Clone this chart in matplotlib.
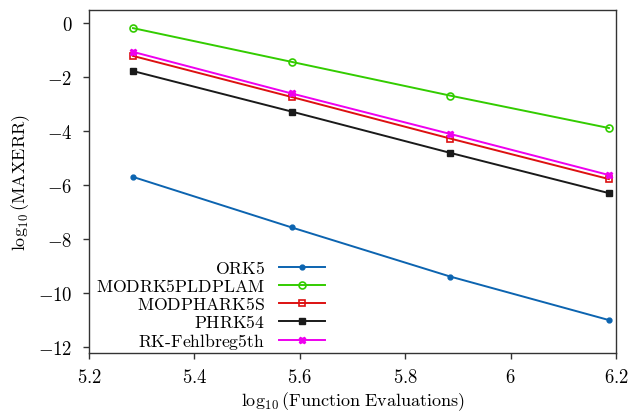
import matplotlib
matplotlib.use("Agg")
import matplotlib.pyplot as plt
from matplotlib.ticker import FixedLocator, FixedFormatter

plt.rcParams['mathtext.fontset'] = 'cm'
plt.rcParams['font.family'] = 'serif'
plt.rcParams['font.serif'] = ['DejaVu Serif']

x = [5.2835, 5.5845, 5.8856, 6.1866]
ork5 = [-5.70, -7.57, -9.39, -11.00]
modrk = [-0.19, -1.44, -2.69, -3.89]
modphark = [-1.22, -2.74, -4.28, -5.78]
phrk54 = [-1.78, -3.28, -4.81, -6.30]
rkf = [-1.07, -2.61, -4.11, -5.63]

names = ['ORK5', 'MODRK5PLDPLAM', 'MODPHARK5S', 'PHRK54', 'RK-Fehlbreg5th']
xticks = [5.2, 5.4, 5.6, 5.8, 6.0, 6.2]
xticklabels = ['5.2', '5.4', '5.6', '5.8', '6', '6.2']
yticks = [0, -2, -4, -6, -8, -10, -12]
yticklabels = ['0', '-2', '-4', '-6', '-8', '-10', '-12']

fig = plt.figure(figsize=(6.29, 4.14), dpi=100)
ax = fig.add_axes([0.1415, 0.1449, 0.8378, 0.8285])

lw = 1.4
ax.plot(x, ork5, color='#0c64b0', marker='o', ms=3.5, lw=lw, label=r'$\mathrm{ORK5}$')
ax.plot(x, modrk, color='#33cc00', marker='o', ms=5, mfc='none', mew=1.2, lw=lw,
        label=r'$\mathrm{MODRK5PLDPLAM}$')
ax.plot(x, modphark, color='#dd1111', marker='s', ms=5, mfc='none', mew=1.2, lw=lw,
        label=r'$\mathrm{MODPHARK5S}$')
ax.plot(x, phrk54, color='#1a1a1a', marker='s', ms=5, lw=lw, label=r'$\mathrm{PHRK54}$')
ax.plot(x, rkf, color='#ee00ee', marker='X', ms=5, lw=lw, label=r'$\mathrm{RK\text{-}Fehlbreg5th}$')

ax.set_xlim(5.2, 6.2)
ax.set_ylim(-12.22, 0.48)
ax.xaxis.set_major_locator(FixedLocator(xticks))
ax.xaxis.set_major_formatter(FixedFormatter(['$' + t + '$' for t in xticklabels]))
ax.yaxis.set_major_locator(FixedLocator(yticks))
ax.yaxis.set_major_formatter(FixedFormatter(['$' + t + '$' for t in yticklabels]))
ax.tick_params(direction='out', length=4, width=1, labelsize=13.5, color='#333333')
ax.tick_params(axis='x', pad=7)
ax.tick_params(axis='y', pad=8)
for s in ax.spines.values():
    s.set_color('#333333')
    s.set_linewidth(1.0)

ax.set_xlabel(r'$\log_{10}(\mathrm{Function\ Evaluations})$', fontsize=13, labelpad=2)
ax.set_ylabel(r'$\log_{10}(\mathrm{MAXERR})$', fontsize=13, labelpad=4)

leg = ax.legend(loc='lower left', bbox_to_anchor=(0.0, -0.015), markerfirst=False, frameon=False,
                fontsize=12.7, handlelength=2.6, labelspacing=0.0, handletextpad=0.8,
                borderaxespad=0.0)
for t in leg.get_texts():
    t.set_ha('right')

fig.savefig('out.png', dpi=100)
